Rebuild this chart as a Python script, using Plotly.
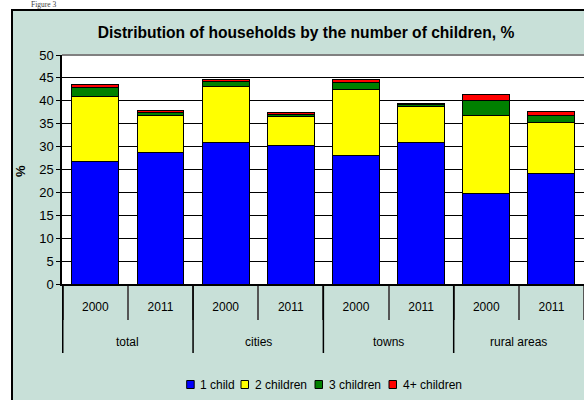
import plotly.graph_objects as go

# ---- data ----
groups = ["total", "cities", "towns", "rural areas"]
years = ["2000", "2011"]
series_names = ["1 child", "2 children", "3 children", "4+ children"]
one_child = [26.7, 28.7, 30.9, 30.2, 28.1, 30.9, 19.7, 24.2]
two_children = [14.2, 8.1, 12.2, 6.3, 14.4, 7.8, 17.1, 11.0]
three_children = [2.0, 0.6, 1.1, 0.6, 1.6, 0.5, 3.3, 1.6]
four_plus = [0.7, 0.4, 0.4, 0.3, 0.6, 0.3, 1.3, 0.8]
y_ticks = list(range(0, 51, 5))

colors = ["#0000FF", "#FFFF00", "#008000", "#FF0000"]
values = [one_child, two_children, three_children, four_plus]

categories = [f"{g}|{y}" for g in groups for y in years]
tick_text = [y for g in groups for y in years]

W, H = 584, 400
ML, MR, MT, MB = 62, 0, 55, 116
PW, PH = W - ML - MR, H - MT - MB
FONT = "Liberation Sans, Arial, sans-serif"
BG = "#C8E0D8"


def px2x(px):
    return (px - ML) / PW


def py2y(py):
    return (H - MB - py) / PH


fig = go.Figure()
for name, vals, col in zip(series_names, values, colors):
    fig.add_trace(go.Bar(
        x=categories, y=vals, name=name,
        marker=dict(color=col, line=dict(color="black", width=1)),
        showlegend=False,
    ))

shapes = []
annotations = []

# white page margins & chart-box border
shapes.append(dict(type="rect", xref="paper", yref="paper", x0=px2x(-5), x1=px2x(11), y0=py2y(405), y1=py2y(-5),
                   fillcolor="white", line=dict(width=0), layer="below"))
shapes.append(dict(type="rect", xref="paper", yref="paper", x0=px2x(-5), x1=px2x(590), y0=py2y(9), y1=py2y(-5),
                   fillcolor="white", line=dict(width=0), layer="below"))
shapes.append(dict(type="line", xref="paper", yref="paper", x0=px2x(12), x1=px2x(12), y0=py2y(405), y1=py2y(9),
                   line=dict(color="black", width=2)))
shapes.append(dict(type="line", xref="paper", yref="paper", x0=px2x(11), x1=px2x(590), y0=py2y(10), y1=py2y(10),
                   line=dict(color="black", width=2)))
# plot area top border
shapes.append(dict(type="line", xref="paper", yref="paper", x0=0, x1=1, y0=1, y1=1,
                   line=dict(color="#808080", width=2)))

# group dividers and labels
n_per = len(years)
for gi, g in enumerate(groups):
    x_left = gi * n_per - 0.5
    shapes.append(dict(type="line", xref="x", yref="paper", x0=x_left, x1=x_left, y0=0, y1=py2y(353),
                       line=dict(color="black", width=1.5)))
    annotations.append(dict(text=g, xref="x", yref="paper", x=gi * n_per + (n_per - 1) / 2, y=py2y(342.5),
                            showarrow=False, xanchor="center", yanchor="middle",
                            font=dict(family=FONT, size=12, color="black")))

# manual legend
leg_sq = [186.7, 241, 315, 389]
for name, col, sx in zip(series_names, colors, leg_sq):
    shapes.append(dict(type="rect", xref="paper", yref="paper", x0=px2x(sx), x1=px2x(sx + 7.5),
                       y0=py2y(388.5), y1=py2y(380.5), fillcolor=col, line=dict(color="black", width=1)))
    annotations.append(dict(text=name, xref="paper", yref="paper", x=px2x(sx + 11.5), y=py2y(385),
                            showarrow=False, xanchor="left", yanchor="middle",
                            font=dict(family=FONT, size=12, color="black")))

# y-axis title
annotations.append(dict(text="%", xref="paper", yref="paper", x=px2x(20), y=py2y(171), textangle=-90,
                        showarrow=False, xanchor="center", yanchor="middle",
                        font=dict(family=FONT, size=13, color="black", weight="bold")))
# page caption (in the white strip above the chart box)
annotations.append(dict(text="Figure 3", xref="paper", yref="paper", x=px2x(30), y=py2y(5),
                        showarrow=False, xanchor="left", yanchor="middle", borderpad=0,
                        font=dict(family="Liberation Serif, Times New Roman, serif", size=7.5, color="#404040")))

fig.update_layout(
    width=W, height=H,
    margin=dict(l=ML, r=MR, t=MT, b=MB, pad=0),
    paper_bgcolor=BG, plot_bgcolor="white",
    barmode="stack", bargap=0.28,
    title=dict(text="Distribution of households by the number of children, %",
               x=306 / W, xanchor="center", y=1 - 33 / H, yanchor="middle",
               font=dict(family=FONT, size=15.6, color="black", weight="bold")),
    xaxis=dict(type="category", categoryorder="array", categoryarray=categories,
               tickmode="array", tickvals=categories, ticktext=tick_text,
               tickson="boundaries", ticks="outside", ticklen=34, tickwidth=1.5, tickcolor="#555555",
               ticklabelstandoff=11,
               showline=True, linecolor="black", linewidth=1.5, showgrid=False,
               tickfont=dict(family=FONT, size=12, color="black"), fixedrange=True),
    yaxis=dict(range=[0, 50], tickmode="array", tickvals=y_ticks, ticks="outside", ticklen=4,
               tickcolor="black", showline=True, linecolor="black", linewidth=1.5,
               showgrid=True, gridcolor="black", gridwidth=1, zeroline=False,
               tickfont=dict(family=FONT, size=13, color="black"), fixedrange=True),
    shapes=shapes, annotations=annotations,
)

fig.write_html("out.html")
